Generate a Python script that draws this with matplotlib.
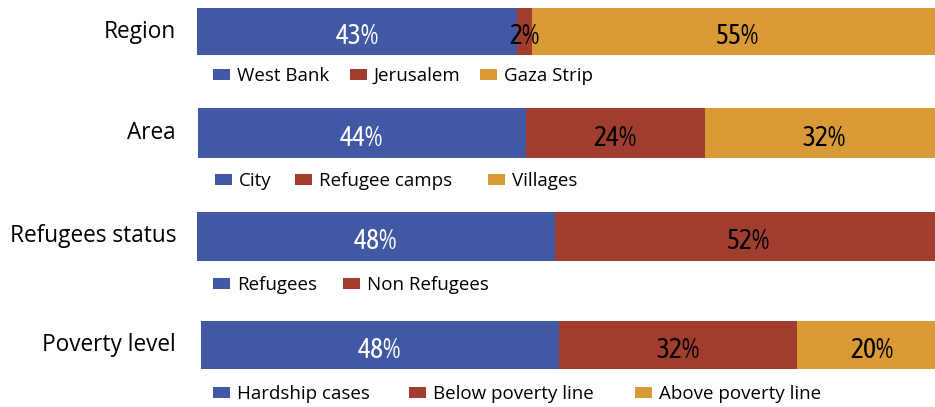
import matplotlib
matplotlib.use("Agg")
import matplotlib.pyplot as plt
from matplotlib.patches import Patch

W, H = 935, 407

categories = ["Region", "Area", "Refugees status", "Poverty level"]
series_labels = [
    ["West Bank", "Jerusalem", "Gaza Strip"],
    ["City", "Refugee camps", "Villages"],
    ["Refugees", "Non Refugees"],
    ["Hardship cases", "Below poverty line", "Above poverty line"],
]
values = [
    [43, 2, 55],
    [44, 24, 32],
    [48, 52],
    [48, 32, 20],
]
colors = ["#4158A5", "#A03D2F", "#D99A35"]

narrow = ["Asap Condensed", "Archivo Narrow", "DejaVu Sans"]
main_font = ["Open Sans", "DejaVu Sans"]

# layout in pixels: (left, top, bottom) of bar, legend center y, legend handle x
bars_px = [(197, 8, 55), (198, 108, 158), (197, 212, 261), (201, 321, 369)]
legend_y = [76, 181, 285, 394]
legend_x = [[213, 350, 480], [215, 295, 488], [213, 343], [213, 409, 635]]
bar_w_px = 745

fig = plt.figure(figsize=(W / 100, H / 100), dpi=100)

for i, cat in enumerate(categories):
    left, top, bot = bars_px[i]
    ax = fig.add_axes([left / W, (H - bot) / H, bar_w_px / W, (bot - top) / H])
    ax.set_xlim(0, 100)
    ax.set_ylim(-0.5, 0.5)
    ax.axis("off")
    start = 0
    for j, v in enumerate(values[i]):
        ax.barh(0, v, left=start, height=1.0, color=colors[j], edgecolor="none")
        tc = "white" if j == 0 else "black"
        ax.text(start + v / 2, -0.11, f"{v}%", ha="center", va="center",
                fontsize=20, color=tc, family=narrow)
        h = Patch(facecolor=colors[j], edgecolor="none", label=series_labels[i][j])
        fig.legend(handles=[h], loc="center left",
                   bbox_to_anchor=(legend_x[i][j] / W, (H - legend_y[i]) / H),
                   frameon=False, borderpad=0, borderaxespad=0,
                   handlelength=0.92, handleheight=0.5, handletextpad=0.35,
                   prop={"family": main_font, "size": 13.5})
        start += v
    fig.text(176 / W, (H - (top + bot) / 2) / H, cat, ha="right", va="center",
             fontsize=16.3, family=main_font, color="black")

fig.savefig("out.png", dpi=100)
